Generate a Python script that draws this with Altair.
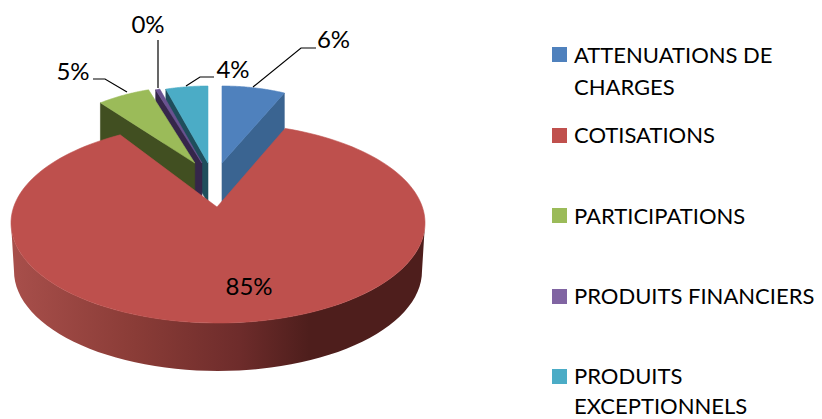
import math
import altair as alt
import pandas as pd

# chart content
categories = ["ATTENUATIONS DE CHARGES", "COTISATIONS", "PARTICIPATIONS", "PRODUITS FINANCIERS", "PRODUITS EXCEPTIONNELS"]
values = [6, 85, 5, 0.4, 4]
pct_labels = ["6%", "85%", "5%", "0%", "4%"]
legend_lines = [["ATTENUATIONS DE", "CHARGES"], ["COTISATIONS"], ["PARTICIPATIONS"], ["PRODUITS FINANCIERS"], ["PRODUITS", "EXCEPTIONNELS"]]
top_colors = ["#4F81BD", "#BE504D", "#9BBB59", "#6A5290", "#4BACC6"]
side_colors = ["#3A6491", "#7a3532", "#414F21", "#35264A", "#1F4E5C"]
swatch_colors = ["#4F81BD", "#C0504D", "#9BBB59", "#8064A2", "#4BACC6"]

W, H = 806, 411
FONT = "Lato"
xs = alt.Scale(domain=[8, 8 + W], nice=False, zero=False)
ys = alt.Scale(domain=[8 + H, 8], nice=False, zero=False)

total = sum(values)
bounds = [0]
for v in values:
    bounds.append(bounds[-1] + v / total * 2 * math.pi)


def arc(cx, cy, rx, ry, a0, a1, n=60):
    return [(cx + rx * math.sin(a0 + (a1 - a0) * k / n), cy - ry * math.cos(a0 + (a1 - a0) * k / n)) for k in range(n + 1)]


def poly(points, fill, stroke=None, width=0.6):
    df = pd.DataFrame({"x": [p[0] for p in points], "y": [p[1] for p in points], "i": list(range(len(points)))})
    return alt.Chart(df).mark_line(fill=fill, stroke=stroke or fill, strokeWidth=width, interpolate="linear-closed").encode(
        x=alt.X("x:Q", scale=xs, axis=None), y=alt.Y("y:Q", scale=ys, axis=None), order="i:Q")


def wedge(i):
    """Exploded far slice: top face and cut face, computed from its value."""
    a0, a1 = bounds[i], bounds[i + 1]
    mid = (a0 + a1) / 2
    ex = 213.6 + 45 * math.sin(mid)
    ax, ay = ex, 163.0
    cy = 186.0
    pts = arc(ex, cy, 170, 100, a0, a1)
    d = 40
    corner = pts[-1] if math.sin(mid) > 0 else pts[0]
    side = [(ax, ay), corner, (corner[0], corner[1] + d), (ax, ay + d)]
    top = [(ax, ay)] + pts
    return [poly(side, side_colors[i]), poly(top, top_colors[i])]


layers = []
for i in [0, 4, 3, 2]:
    layers += wedge(i)

# big slice: wall then top; the far corners are foreshortened by the perspective
PERSPECTIVE_START = math.radians(-2.6)
PERSPECTIVE_END = math.radians(5.5)
wall_top = arc(218, 223, 207, 100, math.pi / 2, 3 * math.pi / 2)
wall_bot = arc(218, 271, 204, 100, 3 * math.pi / 2, math.pi / 2)
wall_grad = alt.LinearGradient(
    gradient="linear", x1=0, x2=1, y1=0, y2=0,
    stops=[alt.GradientStop(offset=0, color="#A84F4B"), alt.GradientStop(offset=0.3, color="#8A3C37"),
           alt.GradientStop(offset=0.55, color="#6E2C2B"), alt.GradientStop(offset=0.72, color="#4E1E1C"),
           alt.GradientStop(offset=1, color="#4E1E1C")])
layers.append(poly(wall_top + wall_bot, wall_grad, "#6E2C2B", 0))
layers.append(poly([(217, 207)] + arc(218, 223, 207, 100, bounds[1] + PERSPECTIVE_START, bounds[2] + PERSPECTIVE_END, 160), top_colors[1]))

# leader lines
leaders = [
    [(253, 87), (301, 48), (316, 48)],
    [(186, 86), (200, 77), (214, 77)],
    [(158, 88), (158, 40)],
    [(127, 92), (105, 79), (93, 79)],
]
for pts in leaders:
    df = pd.DataFrame({"x": [p[0] for p in pts], "y": [p[1] for p in pts], "i": list(range(len(pts)))})
    layers.append(alt.Chart(df).mark_line(color="#000000", strokeWidth=1.2).encode(
        x=alt.X("x:Q", scale=xs, axis=None), y=alt.Y("y:Q", scale=ys, axis=None), order="i:Q"))

# percentage labels
label_pos = [(333.5, 41), (249, 288), (73, 73), (148, 26), (233, 71)]
lab = pd.DataFrame({"x": [p[0] for p in label_pos], "y": [p[1] for p in label_pos], "t": pct_labels})
layers.append(alt.Chart(lab).mark_text(font=FONT, fontSize=24, color="#000000", align="center", baseline="middle").encode(
    x=alt.X("x:Q", scale=xs, axis=None), y=alt.Y("y:Q", scale=ys, axis=None), text="t:N"))

# legend
sw_y = [54.5, 135.5, 215.5, 296.5, 376.5]
sw = pd.DataFrame({"x": [559.5] * 5, "y": sw_y, "c": swatch_colors})
layers.append(alt.Chart(sw).mark_square(size=225, opacity=1, filled=True).encode(
    x=alt.X("x:Q", scale=xs, axis=None), y=alt.Y("y:Q", scale=ys, axis=None),
    color=alt.Color("c:N", scale=None)))

first_base = [63, 143, 224, 304, 384]
line_gap = [32, 32, 32, 32, 30]
rows = []
for lines, b, gap in zip(legend_lines, first_base, line_gap):
    for j, s in enumerate(lines):
        rows.append({"x": 574, "y": b + j * gap, "t": s})
layers.append(alt.Chart(pd.DataFrame(rows)).mark_text(font=FONT, fontSize=22, color="#000000", align="left", baseline="alphabetic").encode(
    x=alt.X("x:Q", scale=xs, axis=None), y=alt.Y("y:Q", scale=ys, axis=None), text="t:N"))

chart = alt.layer(*layers).properties(
    width=W, height=H, padding=0, autosize=alt.AutoSizeParams(type="none"), background="#FFFFFF"
).configure_view(stroke=None)

chart.save("out.html", embed_options={"renderer": "svg", "actions": False})
